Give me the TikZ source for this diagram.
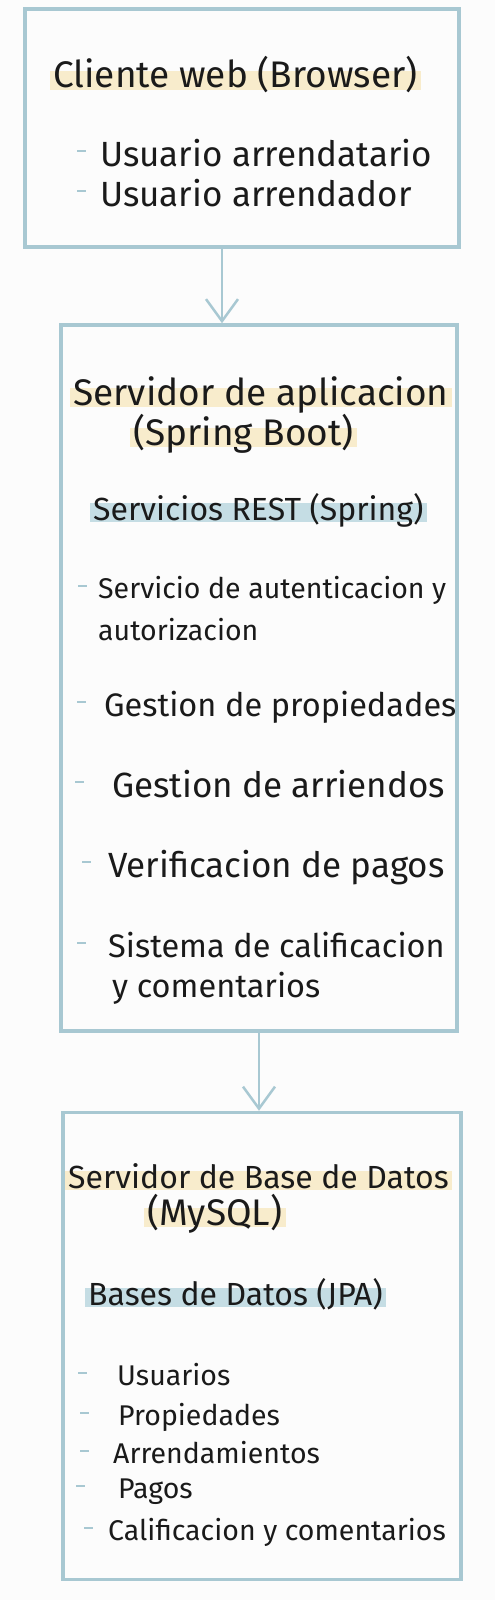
\documentclass[tikz,border=0pt]{standalone}
\usepackage{fontspec}
\setmainfont{Fira Sans}
\usetikzlibrary{arrows.meta,backgrounds}
\definecolor{boxline}{HTML}{A8C8D2}
\definecolor{hlyellow}{HTML}{F8ECCC}
\definecolor{hlblue}{HTML}{C5DDE4}
\definecolor{ink}{HTML}{1A1A1A}
\definecolor{paper}{HTML}{FCFCFC}
\newcommand{\dashmark}[1][14pt]{\textcolor{boxline}{\rule[0.4em]{9pt}{2pt}}\hspace{#1}}

\begin{document}
\begin{tikzpicture}[x=1pt, y=-1pt,
  box/.style={draw=boxline, line width=3.5pt, inner sep=0pt},
  title/.style={anchor=base west, inner sep=0pt, text=ink, font=\fontsize{37}{40}\selectfont},
  sub/.style={anchor=base west, inner sep=0pt, text=ink, font=\fontsize{32}{36}\selectfont},
  item/.style={anchor=base west, inner sep=0pt, text=ink, font=\fontsize{32.5}{36}\selectfont},
  itemlg/.style={item, font=\fontsize{35}{38}\selectfont},
  itemsm/.style={item, font=\fontsize{28.5}{32}\selectfont},
  arrow/.style={draw=boxline, line width=2.5pt, -{Straight Barb[length=22pt, width=32pt]}}
]
  \useasboundingbox (0,0) rectangle (495,1600);

  % Client
  \node[box, minimum width=434pt, minimum height=238pt] (client) at (242,128) {};
  \node[title] (t1) at (53,88) {Cliente web (Browser)};
  \node[itemlg] (u1) at (77,166) {\dashmark Usuario arrendatario};
  \node[itemlg] (u2) at (77,206) {\dashmark Usuario arrendador};

  % Application server
  \node[box, minimum width=396pt, minimum height=706pt] (app) at (259,678) {};
  \node[title] (t2a) at (73,405) {Servidor de aplicacion};
  \node[title] (t2b) at (133,445) {(Spring Boot)};
  \node[sub] (s2) at (93,520) {Servicios REST (Spring)};
  \node[itemsm] (auth) at (78,598) {\dashmark[11pt]Servicio de autenticacion y};
  \node[itemsm] (auth2) at (98,640) {autorizacion};
  \node[item] (props) at (77,716) {\dashmark[18pt]Gestion de propiedades};
  \node[itemlg] (rent) at (75,797) {\dashmark[28pt]Gestion de arriendos};
  \node[itemlg] (pay) at (82,877) {\dashmark[17pt]Verificacion de pagos};
  \node[item] (rate) at (77,957) {\dashmark[22pt]Sistema de calificacion};
  \node[item] (rate2) at (112,997) {y comentarios};

  % Database server
  \node[box, minimum width=398pt, minimum height=467pt] (db) at (262,1346) {};
  \node[title, font=\fontsize{32}{36}\selectfont] (t3a) at (68,1188) {Servidor de Base de Datos};
  \node[title] (t3b) at (147,1225) {(MySQL)};
  \node[sub] (s3) at (88,1305) {Bases de Datos (JPA)};
  \node[itemsm] (d1) at (78,1385) {\dashmark[30pt]Usuarios};
  \node[itemsm] (d2) at (80,1425) {\dashmark[29pt]Propiedades};
  \node[itemsm] (d3) at (80,1463) {\dashmark[24pt]Arrendamientos};
  \node[itemsm] (d4) at (76,1498) {\dashmark[33pt]Pagos};
  \node[itemsm] (d5) at (84,1540) {\dashmark[15pt]Calificacion y comentarios};

  % Highlights
  \begin{scope}[on background layer]
    \fill[paper] (0,0) rectangle (495,1600);
    \foreach \n in {t1,t2a,t2b,t3a,t3b}
      \fill[hlyellow] ([xshift=-3pt,yshift=-2pt]\n.base west) rectangle ([xshift=3pt,yshift=17pt]\n.base east);
    \foreach \n in {s2,s3}
      \fill[hlblue] ([xshift=-3pt,yshift=-2pt]\n.base west) rectangle ([xshift=3pt,yshift=17pt]\n.base east);
  \end{scope}

  % Arrows
  \draw[arrow] ([xshift=-20pt]client.south) -- ([xshift=-20pt]client.south |- app.north);
  \draw[arrow] (app.south) -- (app.south |- db.north);
\end{tikzpicture}
\end{document}
